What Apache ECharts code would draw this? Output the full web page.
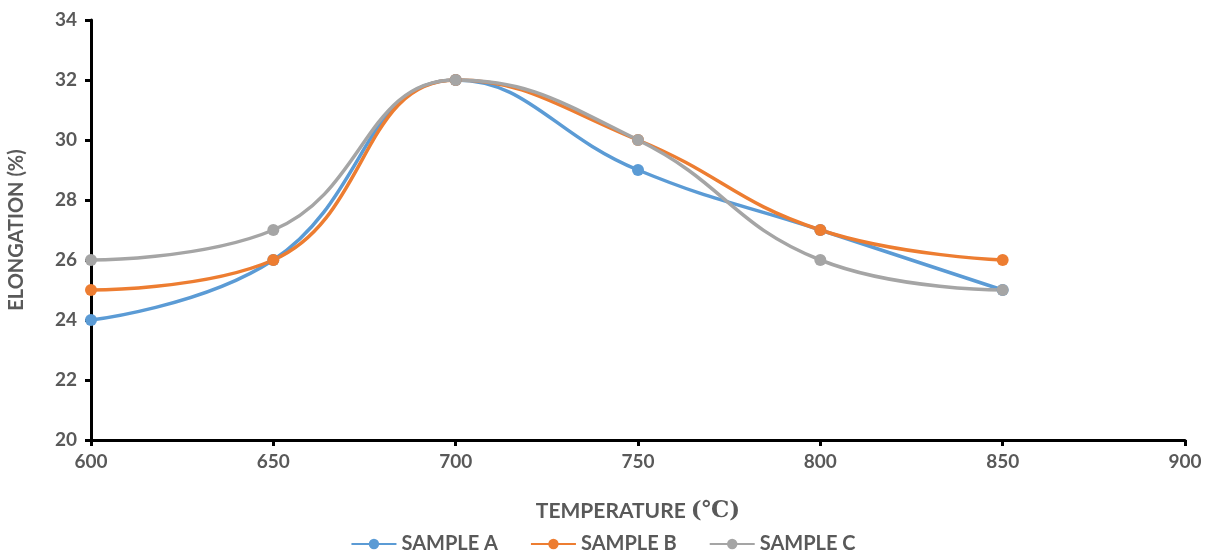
<!DOCTYPE html>
<html><head><meta charset="utf-8">
<script src="https://cdn.jsdelivr.net/npm/echarts@6/dist/echarts.min.js"></script>
<style>html,body{margin:0;padding:0;background:#fff}#c{width:1206px;height:550px}</style>
</head><body><div id="c"></div>
<script>
const temperatures = [600, 650, 700, 750, 800, 850];
const sampleA = [24, 26, 32, 29, 27, 25];
const sampleB = [25, 26, 32, 30, 27, 26];
const sampleC = [26, 27, 32, 30, 26, 25];
const seriesNames = ['SAMPLE A', 'SAMPLE B', 'SAMPLE C'];
const colors = ['#5B9BD5', '#ED7D31', '#A5A5A5'];

const font = 'Lato';
const chart = echarts.init(document.getElementById('c'));
function mk(name, vals, color) {
  return {
    name, type: 'line', smooth: 0.45,
    data: temperatures.map((t, i) => [t, vals[i]]),
    symbol: 'circle', symbolSize: 12,
    lineStyle: { width: 3.5, color },
    itemStyle: { color },
    z: 3
  };
}
chart.setOption({
  animation: false,
  grid: { left: 91, right: 21, top: 20, bottom: 110, containLabel: false, outerBoundsMode: 'none' },
  xAxis: {
    type: 'value', min: 600, max: 900, interval: 50,
    name: 'TEMPERATURE {s|(℃)}', nameLocation: 'middle', nameGap: 60,
    nameTextStyle: { fontFamily: font, fontWeight: 'bold', fontSize: 21, color: '#595959',
      rich: { s: { fontFamily: 'DejaVu Serif', fontSize: 23, color: '#595959' } } },
    axisLine: { lineStyle: { color: '#000', width: 3 } },
    axisTick: { show: true, length: 6, lineStyle: { color: '#000', width: 3 } },
    axisLabel: { fontFamily: font, fontWeight: 'bold', fontSize: 19, color: '#595959', margin: 12 },
    splitLine: { show: false }
  },
  yAxis: {
    type: 'value', min: 20, max: 34, interval: 2,
    name: 'ELONGATION (%)', nameLocation: 'middle', nameGap: 64, nameRotate: 90,
    nameTextStyle: { fontFamily: font, fontWeight: 'bold', fontSize: 20, color: '#595959' },
    axisLine: { show: true, lineStyle: { color: '#000', width: 3 } },
    axisTick: { show: true, length: 6, lineStyle: { color: '#000', width: 3 } },
    axisLabel: { fontFamily: font, fontWeight: 'bold', fontSize: 19, color: '#595959', margin: 14 },
    splitLine: { show: false }
  },
  legend: {
    top: 529, left: 'center', itemGap: 32, itemWidth: 45, itemHeight: 13,
    data: seriesNames,
    textStyle: { fontFamily: font, fontWeight: 'bold', fontSize: 20, color: '#595959' }
  },
  series: [
    mk(seriesNames[0], sampleA, colors[0]),
    mk(seriesNames[1], sampleB, colors[1]),
    mk(seriesNames[2], sampleC, colors[2])
  ]
});
</script></body></html>
